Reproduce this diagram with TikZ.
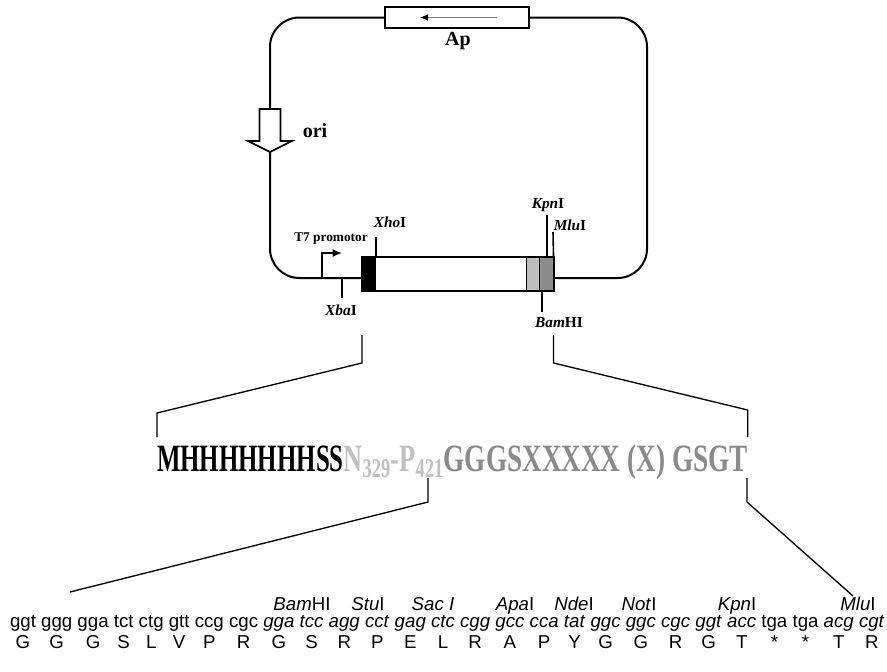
\documentclass[tikz,border=0pt]{standalone}
\usepackage{fontspec}
\setmainfont{Liberation Serif}
\setsansfont{Liberation Sans}
\usepackage{graphicx}
\usetikzlibrary{arrows.meta,calc,positioning}
\definecolor{lgray}{RGB}{192,192,192}
\definecolor{mgray}{RGB}{138,138,138}
\definecolor{boxlight}{RGB}{190,190,190}
\definecolor{boxdark}{RGB}{140,140,140}

\begin{document}
\begin{tikzpicture}[x=0.75pt,y=-0.75pt,
    backbone/.style={draw=black, line width=1.5pt},
    sitetick/.style={draw=black, line width=1.2pt},
    zoomline/.style={draw=black, line width=1pt},
    enzlabel/.style={inner sep=0pt, font=\fontsize{11.5}{12}\selectfont\bfseries},
    genelabel/.style={inner sep=0pt, font=\fontsize{15}{16}\selectfont\bfseries},
    seqtext/.style={inner sep=0pt, outer sep=0pt, font=\fontsize{29}{30}\selectfont\bfseries},
    codon/.style={inner sep=0pt, outer sep=0pt, font=\fontsize{14}{16}\sffamily},
    residue/.style={inner sep=0pt, outer sep=0pt, font=\fontsize{14}{16}\sffamily}
    ]
    \useasboundingbox[fill=white] (0,0) rectangle (887,671);
    %
    %vector
    %
    \node[draw, line width=1.5pt, fill=white, minimum width=108pt, minimum height=15.75pt, inner sep=0pt] (ap) at (457,17.5) {};
    \draw[gray, line width=0.8pt, -{Latex[black,length=6pt,width=5pt]}] ($(ap.center)+(40,0)$) -- ($(ap.center)+(-37,0)$);
    \node[genelabel] (aplab) at (458,41) {Ap};
    \node[inner sep=0pt, minimum width=143.25pt, minimum height=24.75pt, anchor=north west] (ins) at (362,257) {};
    \fill[black] (ins.north west) rectangle ($(ins.south west)+(14,0)$);
    \fill[boxlight] ($(ins.north east)+(-27,0)$) rectangle ($(ins.south east)+(-14,0)$);
    \fill[boxdark] ($(ins.north east)+(-14,0)$) rectangle (ins.south east);
    \draw[line width=1.5pt] (ins.north west) rectangle (ins.south east);
    \draw[line width=1pt] ($(ins.north east)+(-27,0)$) -- ($(ins.south east)+(-27,0)$);
    \draw[line width=1pt] ($(ins.north east)+(-14,0)$) -- ($(ins.south east)+(-14,0)$);
    \coordinate (oritop) at (270,109);
    \coordinate (oritip) at (270,152);
    \draw[line width=1.2pt, fill=white] (259.5,109) -- (280.5,109) -- (280.5,141) -- (292,141) -- (oritip) -- (248,141) -- (259.5,141) -- cycle;
    \node[genelabel] (orilab) at (315,131) {ori};
    %
    %backbone
    %
    \draw[backbone, rounded corners=22pt] (ins.east |- 0,278) -- (647,278) -- (647,17.5) -- (ap.east);
    \draw[backbone, rounded corners=22pt] (ap.west) -- (270,17.5) -- (oritop);
    \draw[backbone, rounded corners=22pt] (oritip) -- (270,278) -- (ins.west |- 0,278);
    %
    %sites
    %
    \coordinate (t7) at (322,278);
    \draw[sitetick, -{Latex[length=7pt,width=6pt]}] (t7) -- (322,253) -- (342,253);
    \node[inner sep=0pt, font=\fontsize{10}{11}\selectfont\bfseries] (t7lab) at (331,239) {T7 promotor};
    \draw[sitetick] (342,278) -- (342,298);
    \node[enzlabel] (xba) at (341,310) {\textit{Xba}I};
    \draw[sitetick] (ins.north -| 376,0) -- (376,237);
    \node[enzlabel] (xho) at (390,222) {\textit{Xho}I};
    \draw[sitetick] (ins.north -| 547,0) -- (547,215);
    \node[enzlabel] (kpn) at (548,205) {\textit{Kpn}I};
    \draw[sitetick] (ins.north east) -- (553,232);
    \node[enzlabel] (mlu) at (570,225) {\textit{Mlu}I};
    \draw[sitetick] (ins.south -| 542,0) -- (542,312);
    \node[enzlabel] (bam) at (559,323) {\textit{Bam}HI};
    %
    %protein
    %
    \node[seqtext, anchor=base west] (his) at (157,471) {\resizebox{140pt}{\height}{MHHHHHHHSS}};
    \node[seqtext, anchor=base west, text=lgray] (np) at (his.base east) {\resizebox{75pt}{\height}{N\textsubscript{329}-P\textsubscript{421}}};
    \node[seqtext, anchor=base west, text=mgray] (gsgt) at (np.base east) {\resizebox{228pt}{\height}{GGGSXXXXX (X) GSGT}};
    \draw[zoomline] (ins.south west |- 0,335) -- (ins.south west |- 0,363) -- (his.base west |- 0,413) -- (his.base west |- 0,437);
    \draw[zoomline] (ins.south east |- 0,335) -- (ins.south east |- 0,363) -- (gsgt.base east |- 0,410) -- (gsgt.base east |- 0,437);
    %
    %linker
    %
    \foreach \cod/\res [count=\i] in {ggt/G, ggg/G, gga/G, tct/S, ctg/L, gtt/V, ccg/P, cgc/R,
        \textit{gga}/G, \textit{tcc}/S, \textit{agg}/R, \textit{cct}/P, \textit{gag}/E, \textit{ctc}/L,
        \textit{cgg}/R, \textit{gcc}/A, \textit{cca}/P, \textit{tat}/Y, \textit{ggc}/G, \textit{ggc}/G,
        \textit{cgc}/R, \textit{ggt}/G, \textit{acc}/T, tga/*, tga/*, \textit{acg}/T, \textit{cgt}/R}{
        \pgfmathtruncatemacro\j{\i-1}
        \ifnum\i=1 \coordinate (prev) at (10,627); \else \coordinate (prev) at ($(c\j.base east)+(3.9pt,0)$); \fi
        \node[codon, anchor=base west] (c\i) at (prev) {\cod};
        \node[residue, anchor=base] (r\i) at (c\i.base |- 0,648) {\res};
    }
    \node[codon, anchor=base] (bamsite) at (302,610) {\textit{Bam}HI};
    \node[codon, anchor=base] (stusite) at (368,610) {\textit{Stu}I};
    \node[codon, anchor=base] (sacsite) at (433,610) {\textit{Sac I}};
    \node[codon, anchor=base] (apasite) at (515,610) {\textit{Apa}I};
    \node[codon, anchor=base] (ndesite) at (574,610) {\textit{Nde}I};
    \node[codon, anchor=base] (notsite) at (639,610) {\textit{Not}I};
    \node[codon, anchor=base] (kpnsite) at (737,610) {\textit{Kpn}I};
    \node[codon, anchor=base] (mlusite) at (858,610) {\textit{Mlu}I};
    \draw[zoomline] (428,478) -- (428,502) -- (70,592);
    \draw[zoomline] (747,478) -- (747,502) -- (853,596);
\end{tikzpicture}
\end{document}
